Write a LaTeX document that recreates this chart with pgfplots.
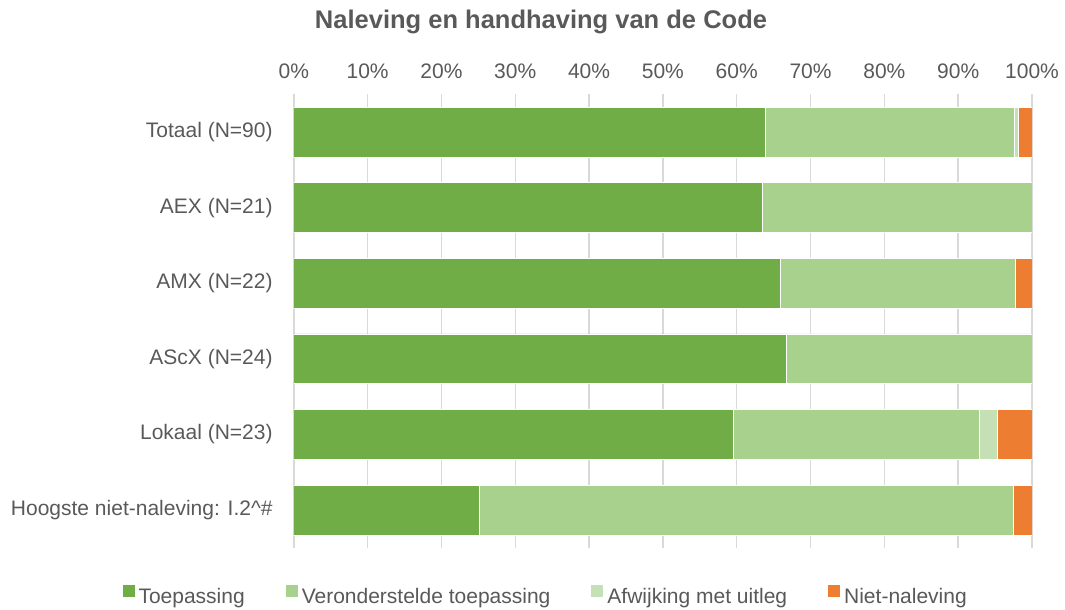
\documentclass[border=0pt]{standalone}
\usepackage{fontspec}
\setmainfont{Liberation Sans}
\usepackage{pgfplots}
\pgfplotsset{compat=1.18}
\definecolor{cA}{HTML}{70AD47}
\definecolor{cB}{HTML}{A9D18E}
\definecolor{cC}{HTML}{C5E0B4}
\definecolor{cD}{HTML}{ED7D31}
\definecolor{txt}{HTML}{595959}
\definecolor{gridc}{HTML}{D9D9D9}
\begin{document}
\begin{tikzpicture}
\useasboundingbox (-146.9pt,-31.1pt) rectangle (385.6pt,273.9pt);
\begin{axis}[
  at={(0,0)}, anchor=south west,
  scale only axis, width=369.1pt, height=226.8pt,
  xbar stacked, bar width=0.66,
  xmin=0, xmax=100, ymin=-0.5, ymax=5.5,
  y dir=reverse,
  axis line style={draw=none},
  major tick length=0pt,
  xtick={0,10,...,100},
  xticklabels={0\%,10\%,20\%,30\%,40\%,50\%,60\%,70\%,80\%,90\%,100\%},
  xticklabel pos=upper,
  xticklabel style={anchor=base, yshift=8.1pt, inner sep=0pt},
  xmajorgrids,
  major grid style={draw=gridc, line width=0.75pt},
  ytick={0,...,5},
  yticklabels={Totaal (N=90), AEX (N=21), AMX (N=22), AScX (N=24), Lokaal (N=23), Hoogste niet-naleving: I.2\textasciicircum\#},
  yticklabel style={anchor=east, inner sep=0pt, xshift=-10.4pt},
  ticklabel style={font=\fontsize{10.5}{12}\selectfont, text=txt},
  every axis plot/.append style={draw=white, line width=0.3pt},
  legend columns=4,
  legend style={at={(0.3425,-0.1085)}, anchor=center, draw=none,
    font=\fontsize{10.5}{12}\selectfont, text=txt,
    /tikz/every even column/.append style={column sep=18.5pt}},
  legend image code/.code={\draw[#1,draw=none] (0pt,0pt) rectangle (6pt,5.8pt);},
]
\addplot[fill=cA] coordinates {(63.9,0) (63.4,1) (65.9,2) (66.7,3) (59.5,4) (25.1,5)};
\addplot[fill=cB] coordinates {(33.7,0) (36.6,1) (31.8,2) (33.3,3) (33.3,4) (72.4,5)};
\addplot[fill=cC] coordinates {(0.6,0) (0,1) (0,2) (0,3) (2.5,4) (0,5)};
\addplot[fill=cD] coordinates {(1.8,0) (0,1) (2.3,2) (0,3) (4.7,4) (2.5,5)};
\legend{Toepassing, Veronderstelde toepassing, Afwijking met uitleg, Niet-naleving}
\end{axis}
\node[anchor=base, font=\fontsize{12.75}{15}\selectfont\bfseries, text=txt] at (123.6pt,259.4pt) {Naleving en handhaving van de Code};
\end{tikzpicture}
\end{document}
